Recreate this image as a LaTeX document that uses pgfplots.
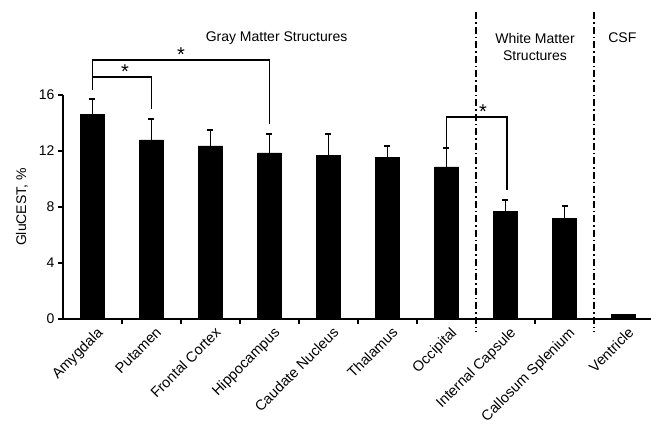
\documentclass[border=0pt]{standalone}
\usepackage{fontspec}
\setmainfont{Liberation Sans}
\usepackage{pgfplots}
\usepackage{pgfplotstable}
\pgfplotsset{compat=1.18}
\pgfplotstableread{
x y err
0 14.64 1.06
1 12.80 1.50
2 12.36 1.14
3 11.86 1.34
4 11.70 1.50
5 11.57 0.79
6 10.86 1.34
7 7.70 0.80
8 7.20 0.87
9 0.33 0
}\datatab
\begin{document}
\begin{tikzpicture}
\begin{axis}[
  scale only axis, width=590pt, height=224pt,
  xmin=-0.5, xmax=9.5, ymin=0, ymax=16,
  axis x line=bottom, axis y line=left,
  axis line style={line width=1.6pt, -},
  clip=false,
  ytick={0,4,8,12,16},
  xtick={0,...,9},
  xticklabels={Amygdala,Putamen,Frontal Cortex,Hippocampus,Caudate Nucleus,Thalamus,Occipital,Internal Capsule,Callosum Splenium,Ventricle},
  minor xtick={0.5,1.5,...,8.5},
  major x tick style={draw=none},
  tick align=outside,
  major tick length=5pt, minor tick length=5pt,
  every tick/.style={line width=1.4pt, black},
  x tick label style={rotate=45, anchor=north east, font=\fontsize{14.5}{17}\selectfont, inner sep=1pt, yshift=-3pt, xshift=2pt},
  y tick label style={font=\fontsize{14}{16}\selectfont},
  /pgf/number format/assume math mode=true,
  ylabel={GluCEST, \%},
  ylabel style={font=\fontsize{14}{16}\selectfont, yshift=4pt},
]
\addplot[ybar, bar width=24pt, fill=black, draw=black,
  error bars/.cd, y dir=plus, y explicit,
  error bar style={line width=1.6pt, black},
  error mark options={line width=1.6pt, mark size=3pt, rotate=90}]
  table[x=x, y=y, y error=err]{\datatab};
% brackets
\draw[line width=1.6pt] (axis cs:0,16.36) -- (axis cs:0,18.5) -- (axis cs:3,18.5) -- (axis cs:3,13.93);
\draw[line width=1.6pt] (axis cs:0,17.29) -- (axis cs:1,17.29) -- (axis cs:1,15.0);
\draw[line width=1.6pt] (axis cs:6,12.2) -- (axis cs:6,14.43) -- (axis cs:7.03,14.43) -- (axis cs:7.03,9.2);
\node[font=\fontsize{20}{22}\selectfont] at (axis cs:1.5,18.85) {*};
\node[font=\fontsize{20}{22}\selectfont] at (axis cs:0.55,17.65) {*};
\node[font=\fontsize{20}{22}\selectfont] at (axis cs:6.62,14.8) {*};
% separators
\draw[line width=1.8pt, dash pattern=on 7pt off 3pt on 1.5pt off 3pt] (axis cs:6.5,21.9) -- (axis cs:6.5,-0.93);
\draw[line width=1.8pt, dash pattern=on 7pt off 3pt on 1.5pt off 3pt] (axis cs:8.5,21.9) -- (axis cs:8.5,-0.93);
% group titles
\node[font=\fontsize{14}{17}\selectfont] at (axis cs:3.12,20.07) {Gray Matter Structures};
\node[font=\fontsize{14}{17}\selectfont, align=center] at (axis cs:7.5,19.46) {White Matter\\Structures};
\node[font=\fontsize{14}{17}\selectfont] at (axis cs:8.98,20.07) {CSF};
\end{axis}
\pgfresetboundingbox
\useasboundingbox (-63pt,-106pt) rectangle (588pt,319pt);
\end{tikzpicture}
\end{document}
